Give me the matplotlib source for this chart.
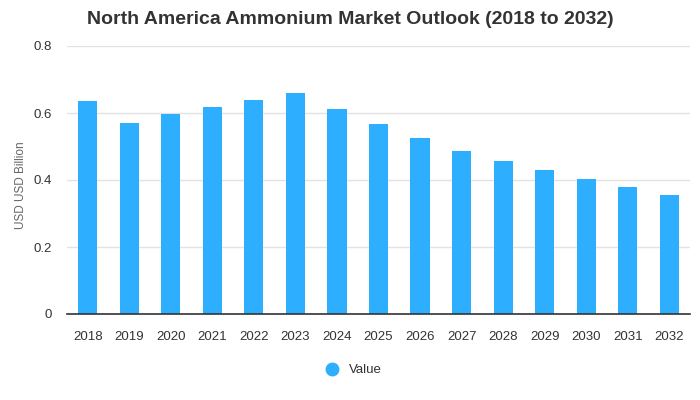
import matplotlib.pyplot as plt
from matplotlib.lines import Line2D

# ------------------------------------------------------------
# DATA
# ------------------------------------------------------------
years = ["2018", "2019", "2020", "2021", "2022", "2023", "2024", "2025",
         "2026", "2027", "2028", "2029", "2030", "2031", "2032"]
values = [0.637, 0.571, 0.598, 0.619, 0.640, 0.661, 0.613, 0.568,
          0.526, 0.487, 0.458, 0.431, 0.404, 0.380, 0.356]
y_ticks = [0, 0.2, 0.4, 0.6, 0.8]
y_labels = ["0", "0.2", "0.4", "0.6", "0.8"]

BAR_COLOR = "#2eaeff"
TEXT_COLOR = "#333333"

plt.rcParams["font.family"] = ["Liberation Sans", "DejaVu Sans"]

fig = plt.figure(figsize=(7, 4), dpi=100)
ax = fig.add_axes([67 / 700, 1 - 314 / 400, 623 / 700, 268 / 400])

x = range(len(years))
ax.bar(x, values, width=0.46, color=BAR_COLOR, zorder=3)

ax.set_xlim(-0.5, len(years) - 0.5)
ax.set_ylim(0, 0.8)
ax.set_yticks(y_ticks)
ax.set_yticklabels(y_labels)
ax.set_xticks(list(x))
ax.set_xticklabels(years)

ax.tick_params(axis="both", length=0, labelsize=9.5, colors=TEXT_COLOR)
ax.tick_params(axis="x", pad=12)
ax.tick_params(axis="y", pad=11)

ax.grid(axis="y", color="#e3e3e3", linewidth=1, zorder=0)
for side in ["top", "right", "left"]:
    ax.spines[side].set_visible(False)
ax.spines["bottom"].set_color("#333333")
ax.spines["bottom"].set_linewidth(1.2)
ax.spines["bottom"].set_zorder(4)

ax.set_ylabel("USD USD Billion", fontsize=8.5, color="#666666")
ax.yaxis.set_label_coords(-40 / 623, 0.48)

fig.text(0.5, 1 - 19 / 400, "North America Ammonium Market Outlook (2018 to 2032)",
         ha="center", va="center", fontsize=14, fontweight="bold", color=TEXT_COLOR)

handle = Line2D([], [], marker="o", linestyle="none", markersize=9,
                markerfacecolor=BAR_COLOR, markeredgecolor=BAR_COLOR)
fig.legend([handle], ["Value"], loc="center", bbox_to_anchor=(0.5, 1 - 370 / 400),
           frameon=False, fontsize=9.5, handletextpad=0.3, labelcolor=TEXT_COLOR)

fig.savefig("out.png", dpi=100)
